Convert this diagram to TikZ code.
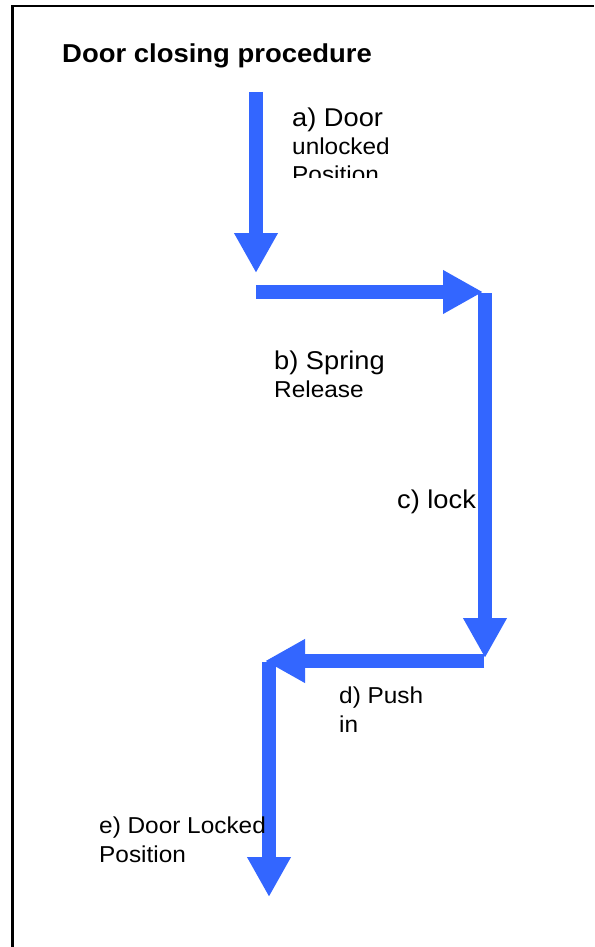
\documentclass[tikz,border=0pt]{standalone}
\usepackage{fontspec}
\usetikzlibrary{arrows.meta}
\newfontfamily\labfont[FakeStretch=1.06]{Liberation Sans}
\definecolor{arrowblue}{RGB}{51,102,255}
\tikzset{
  bigtxt/.style={anchor=base west, inner sep=0pt, font=\labfont\fontsize{25.7}{30}\selectfont},
  smalltxt/.style={anchor=base west, inner sep=0pt, font=\labfont\fontsize{23.0}{27}\selectfont},
  titletxt/.style={anchor=base west, inner sep=0pt, font=\labfont\bfseries\fontsize{25.9}{30}\selectfont},
  flow/.style={draw=arrowblue, line width=13.5pt, line cap=butt,
    -{Triangle[width=41pt,length=40pt]}},
  frameline/.style={draw=black, line width=2.2pt}
}
\begin{document}
\begin{tikzpicture}[x=1pt,y=-1pt]
\useasboundingbox (0,0) rectangle (594,947);
\fill[white] (0,0) rectangle (594,947);
% frame
\coordinate (fr1) at (12.5,947);
\coordinate (fr2) at (12.5,6);
\coordinate (fr3) at (594,6);
\draw[frameline] (fr1) -- (fr2) -- (fr3);
% title
\node[titletxt] (title) at (62,63) {Door closing procedure};
% label c (under the arrow)
\node[bigtxt] (lc) at (397,508) {c) lock};
% coordinates of arrows
\coordinate (a0) at (256,92);
\coordinate (a1) at (256,273);
\coordinate (b0) at (256,292);
\coordinate (b1) at (483,292);
\coordinate (c0) at (485,293);
\coordinate (c1) at (485,658);
\coordinate (d0) at (484,661);
\coordinate (d1) at (265,661);
\coordinate (e0) at (269,662);
\coordinate (e1) at (269,897);
\draw[flow] (a0) -- (a1);
\draw[flow] (b0) -- (b1);
\draw[flow] (c0) -- (c1);
\draw[flow] (d0) -- (d1);
\draw[flow] (e0) -- (e1);
% labels
\node[bigtxt] (la1) at (292,127) {a) Door};
\node[smalltxt] (la2) at (292,154) {unlocked};
\begin{scope}
\clip (280,160) rectangle (430,177.5);
\node[smalltxt] (la3) at (292,182) {Position};
\end{scope}
\node[bigtxt] (lb1) at (274,369) {b) Spring};
\node[smalltxt] (lb2) at (274,397) {Release};
\node[smalltxt] (ld1) at (339,703) {d) Push};
\node[smalltxt] (ld2) at (339,732) {in};
\node[smalltxt] (le1) at (99,833) {e) Door Locked};
\node[smalltxt] (le2) at (99,862) {Position};
\end{tikzpicture}
\end{document}
